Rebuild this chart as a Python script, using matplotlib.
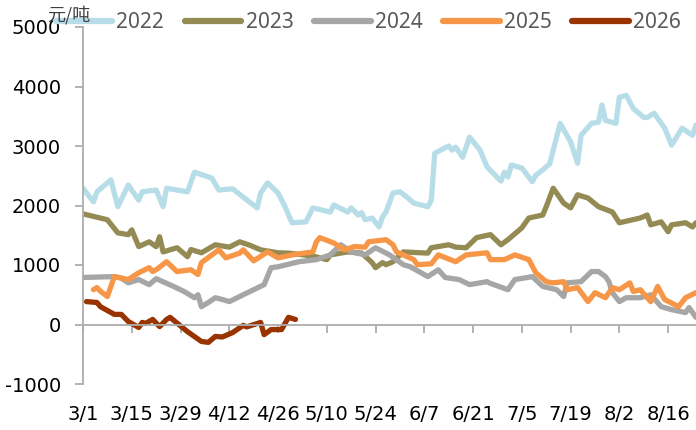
import matplotlib
matplotlib.use("Agg")
import matplotlib.pyplot as plt

plt.rcParams["axes.unicode_minus"] = False

# x = days counted from 3/1, y = yuan per tonne
tick_days = [0, 14, 28, 42, 56, 70, 84, 98, 112, 126, 140, 154, 168]
tick_labels = ["3/1", "3/15", "3/29", "4/12", "4/26", "5/10", "5/24",
               "6/7", "6/21", "7/5", "7/19", "8/2", "8/16"]

d2022 = [0, 3, 4, 8, 10, 13, 16, 17, 21, 23, 24, 30, 32, 37, 39, 43, 46, 50, 51, 53,
         56, 58, 60, 64, 66, 71, 72, 76, 77, 79, 80, 81, 83, 85, 86, 87, 89, 91, 93, 95,
         99, 100, 101, 105, 106, 107, 109, 111, 114, 116, 120, 121, 122, 123, 126, 129,
         130, 132, 134, 137, 140, 142, 143, 146, 148, 149, 150, 153, 154, 156, 158, 161,
         162, 164, 167, 169, 172, 175, 176]
v2022 = [2290, 2060, 2230, 2430, 1980, 2345, 2090, 2230, 2260, 1980, 2290, 2230, 2560,
         2460, 2260, 2280, 2140, 1960, 2210, 2380, 2210, 1980, 1710, 1725, 1960, 1890,
         2010, 1890, 1960, 1840, 1880, 1760, 1790, 1640, 1810, 1890, 2210, 2230, 2140,
         2040, 1980, 2090, 2880, 3000, 2930, 2980, 2810, 3150, 2930, 2650, 2410, 2560,
         2480, 2680, 2630, 2400, 2510, 2600, 2700, 3380, 3070, 2710, 3180, 3380, 3400,
         3690, 3430, 3380, 3820, 3850, 3630, 3480, 3480, 3550, 3300, 3015, 3300, 3180,
         3350]

d2023 = [0, 7, 10, 13, 14, 16, 19, 21, 22, 23, 27, 30, 31, 34, 38, 42, 45, 48, 51, 56,
         59, 66, 70, 71, 76, 80, 83, 84, 86, 87, 89, 92, 97, 99, 100, 105, 107, 110, 113,
         117, 120, 122, 126, 128, 132, 133, 135, 138, 140, 142, 145, 148, 152, 154, 160,
         162, 163, 166, 168, 169, 173, 175, 176]
v2023 = [1860, 1760, 1540, 1510, 1590, 1310, 1390, 1310, 1475, 1220, 1290, 1140, 1260,
         1205, 1340, 1300, 1390, 1330, 1255, 1205, 1200, 1150, 1090, 1170, 1220, 1200,
         1040, 955, 1040, 1005, 1055, 1220, 1205, 1200, 1290, 1340, 1300, 1290, 1460,
         1510, 1340, 1425, 1625, 1790, 1840, 1980, 2290, 2040, 1960, 2180, 2125, 1980,
         1890, 1710, 1790, 1840, 1675, 1725, 1560, 1675, 1710, 1640, 1710]

d2024 = [0, 9, 11, 13, 16, 19, 21, 26, 29, 32, 33, 34, 36, 38, 40, 42, 46, 49, 52, 54,
         56, 62, 67, 71, 74, 77, 81, 84, 88, 92, 94, 99, 102, 104, 108, 111, 116, 117,
         122, 124, 129, 132, 136, 138, 139, 143, 146, 148, 150, 151, 152, 154, 156, 160,
         163, 166, 169, 173, 174, 176]
v2024 = [790, 805, 780, 700, 755, 670, 770, 640, 555, 450, 500, 300, 370, 450, 420, 385,
         500, 585, 670, 955, 970, 1055, 1090, 1170, 1340, 1220, 1170, 1290, 1170, 1005,
         970, 805, 920, 790, 755, 670, 720, 690, 585, 755, 805, 640, 585, 470, 700, 720,
         890, 890, 805, 720, 535, 385, 450, 450, 500, 300, 250, 200, 285, 120]

d2025 = [3, 4, 5, 7, 9, 13, 16, 19, 20, 21, 24, 27, 31, 33, 34, 39, 41, 45, 46, 49, 53,
         56, 60, 66, 67, 68, 72, 75, 78, 81, 82, 87, 89, 90, 95, 96, 100, 102, 107, 110,
         116, 117, 121, 124, 128, 130, 133, 135, 138, 139, 142, 145, 147, 150, 152, 154,
         157, 158, 160, 163, 165, 167, 171, 173, 176]
v2025 = [585, 620, 560, 470, 805, 755, 870, 955, 890, 920, 1055, 890, 920, 840, 1040,
         1255, 1120, 1200, 1255, 1070, 1220, 1120, 1170, 1220, 1390, 1460, 1370, 1255,
         1310, 1300, 1390, 1425, 1340, 1220, 1090, 1005, 1020, 1170, 1055, 1170, 1205,
         1090, 1090, 1170, 1090, 870, 720, 700, 720, 585, 620, 385, 535, 450, 620, 585,
         700, 555, 585, 385, 640, 420, 300, 450, 535]

d2026 = [1, 4, 5, 9, 11, 13, 16, 17, 18, 20, 22, 24, 25, 30, 34, 36, 38, 40, 43, 46, 47,
         51, 52, 54, 57, 59, 61]
v2026 = [385, 370, 300, 170, 170, 50, -50, 35, 20, 85, -35, 85, 120, -120, -285, -300,
         -200, -210, -135, -15, -40, 35, -170, -85, -85, 120, 85]

years = ["2022", "2023", "2024", "2025", "2026"]
colors = ["#B7DEE8", "#948A54", "#A6A6A6", "#F79646", "#993300"]
series = list(zip(years, [d2022, d2023, d2024, d2025, d2026],
                  [v2022, v2023, v2024, v2025, v2026], colors))

fig = plt.figure(figsize=(6.96, 4.30), dpi=100)
ax = fig.add_axes([83 / 696, 1 - 384 / 430, 613 / 696, 357 / 430])

for name, d, v, c in series:
    ax.plot(d, v, color=c, lw=3.8, label=name,
            solid_joinstyle="round", solid_capstyle="round")

ax.set_xlim(0, 176)
ax.set_ylim(-1000, 5000)
ax.set_yticks(range(-1000, 5001, 1000))
ax.set_xticks(tick_days)

axis_grey = "#ADADAD"
for s in ["top", "right"]:
    ax.spines[s].set_visible(False)
ax.spines["bottom"].set_position(("data", 0))
for s in ["left", "bottom"]:
    ax.spines[s].set_color(axis_grey)
    ax.spines[s].set_linewidth(1.3)
ax.tick_params(axis="x", length=6, width=1.3, color=axis_grey, labelbottom=False)
ax.tick_params(axis="y", length=6, width=1.3, color=axis_grey, pad=10,
               labelsize=14, labelcolor="black")

# date labels sit at the bottom of the plot, not on the zero line
sec = ax.secondary_xaxis(0)
sec.set_xticks(tick_days, tick_labels)
sec.spines["bottom"].set_visible(False)
sec.tick_params(length=0, pad=15, labelsize=14, labelcolor="black")

leg = ax.legend(loc="center left", bbox_to_anchor=(56 / 696, 1 - 23 / 430),
                bbox_transform=fig.transFigure, ncol=5, frameon=False,
                prop={"family": "Noto Sans", "size": 15},
                handlelength=2.7, handletextpad=0.2, columnspacing=1.0,
                borderpad=0, borderaxespad=0)
for t in leg.get_texts():
    t.set_color("#595959")
for h in leg.get_lines():
    h.set_linewidth(4.5)

fig.text(47 / 696, 1 - 15 / 430, "元/吨", family=["Noto Sans CJK SC", "DejaVu Sans"],
         fontsize=13, color="#404040", va="center", ha="left")

fig.savefig("out.png", dpi=100)
